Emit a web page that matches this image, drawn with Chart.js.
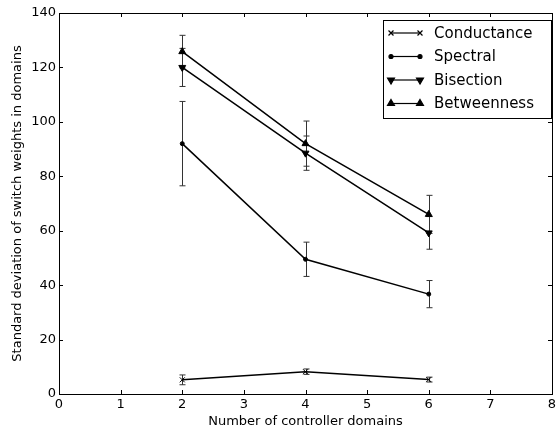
<!DOCTYPE html>
<html>
<head>
<meta charset="utf-8">
<script src="https://cdn.jsdelivr.net/npm/chart.js@4/dist/chart.umd.min.js"></script>
<style>
  html, body { margin: 0; padding: 0; background: #fff; }
  #wrap { width: 558px; height: 434px; }
</style>
</head>
<body>
<div id="wrap"><canvas id="chart" width="558" height="434"></canvas></div>
<script>
const xValues = [2, 4, 6];
const conductance = [5.2, 8.2, 5.3];
const conductanceErr = [1.8, 1.0, 0.9];
const spectral = [92, 49.5, 36.7];
const spectralErr = [15.5, 6.3, 5];
const bisection = [120, 88.5, 59.2];
const bisectionErr = [7, 6.3, 6];
const betweenness = [125.8, 92, 66];
const betweennessErr = [6, 8.3, 7];
const xTicks = [0, 1, 2, 3, 4, 5, 6, 7, 8];
const yTicks = [0, 20, 40, 60, 80, 100, 120, 140];

const FONT = 'DejaVu Sans';

function pts(vals) {
  return xValues.map((x, i) => ({ x: x, y: vals[i] }));
}

const series = [
  { label: 'Conductance', data: conductance, err: conductanceErr, style: 'crossRot', radius: 3.5, rot: 0 },
  { label: 'Spectral', data: spectral, err: spectralErr, style: 'circle', radius: 2, rot: 0 },
  { label: 'Bisection', data: bisection, err: bisectionErr, style: 'triangle', radius: 4, rot: 180 },
  { label: 'Betweenness', data: betweenness, err: betweennessErr, style: 'triangle', radius: 4, rot: 0 }
];

// error bars, inward ticks, frame and legend
const extras = {
  id: 'extras',
  beforeDatasetsDraw(chart) {
    const { ctx, scales: { x, y } } = chart;
    ctx.save();
    ctx.strokeStyle = '#333';
    ctx.lineWidth = 1;
    series.forEach(s => {
      xValues.forEach((xv, i) => {
        const px = Math.round(x.getPixelForValue(xv)) + 0.5;
        const top = y.getPixelForValue(s.data[i] + s.err[i]);
        const bot = y.getPixelForValue(s.data[i] - s.err[i]);
        ctx.beginPath();
        ctx.moveTo(px, top); ctx.lineTo(px, bot);
        ctx.moveTo(px - 3, top); ctx.lineTo(px + 3, top);
        ctx.moveTo(px - 3, bot); ctx.lineTo(px + 3, bot);
        ctx.stroke();
      });
    });
    ctx.restore();
  },
  afterDraw(chart) {
    const { ctx, chartArea: a, scales: { x, y } } = chart;
    ctx.save();
    ctx.strokeStyle = '#000';
    ctx.lineWidth = 1;
    ctx.beginPath();
    xTicks.forEach(v => {
      const px = Math.round(x.getPixelForValue(v)) + 0.5;
      ctx.moveTo(px, a.bottom); ctx.lineTo(px, a.bottom - 4);
      ctx.moveTo(px, a.top); ctx.lineTo(px, a.top + 4);
    });
    yTicks.forEach(v => {
      const py = Math.round(y.getPixelForValue(v)) + 0.5;
      ctx.moveTo(a.left, py); ctx.lineTo(a.left + 4, py);
      ctx.moveTo(a.right, py); ctx.lineTo(a.right - 4, py);
    });
    ctx.stroke();
    ctx.strokeRect(Math.round(a.left) + 0.5, Math.round(a.top) + 0.5,
      Math.round(a.right - a.left), Math.round(a.bottom - a.top));

    // legend
    const lx = 383, ly = 20, lw = 168, lh = 98;
    ctx.fillStyle = '#fff';
    ctx.fillRect(lx, ly, lw, lh);
    ctx.strokeRect(lx + 0.5, ly + 0.5, lw, lh);
    ctx.font = '15px "' + FONT + '"';
    ctx.textBaseline = 'middle';
    series.forEach((s, i) => {
      const cy = ly + 13 + i * 23.5;
      ctx.strokeStyle = '#000';
      ctx.lineWidth = 1.2;
      ctx.beginPath();
      ctx.moveTo(lx + 8, cy); ctx.lineTo(lx + 37, cy);
      ctx.stroke();
      [lx + 8, lx + 37].forEach(mx => {
        Chart.helpers.drawPoint(ctx, {
          pointStyle: s.style, radius: s.radius, rotation: s.rot,
          borderWidth: 1
        }, mx, cy);
      });
      ctx.fillStyle = '#000';
      ctx.fillText(s.label, lx + 51, cy + 1);
    });
    ctx.restore();
  }
};

new Chart(document.getElementById('chart'), {
  type: 'line',
  data: {
    datasets: series.map(s => ({
      label: s.label,
      data: pts(s.data),
      borderColor: '#000',
      backgroundColor: '#000',
      borderWidth: 1.5,
      pointStyle: s.style,
      pointRadius: s.radius,
      pointRotation: s.rot,
      pointBorderWidth: 1,
      tension: 0,
      fill: false
    }))
  },
  options: {
    responsive: false,
    animation: false,
    layout: { padding: { left: 0, right: 6, top: 13, bottom: 0 } },
    plugins: { legend: { display: false }, tooltip: { enabled: false } },
    scales: {
      x: {
        type: 'linear', min: 0, max: 8,
        afterBuildTicks: ax => { ax.ticks = xTicks.map(v => ({ value: v })); },
        afterFit: ax => { ax.height = 40; ax.paddingRight = 0; ax.paddingLeft = 0; },
        grid: { display: false, drawTicks: false },
        border: { display: false },
        ticks: { color: '#000', font: { family: FONT, size: 13 }, padding: 3 },
        title: { display: true, text: 'Number of controller domains', color: '#000',
          font: { family: FONT, size: 13 }, padding: { top: 2, bottom: 5 } }
      },
      y: {
        type: 'linear', min: 0, max: 140,
        afterBuildTicks: ax => { ax.ticks = yTicks.map(v => ({ value: v })); },
        afterFit: ax => { ax.width = 59; ax.paddingTop = 0; ax.paddingBottom = 0; },
        grid: { display: false, drawTicks: false },
        border: { display: false },
        ticks: { color: '#000', font: { family: FONT, size: 13 }, padding: 3 },
        title: { display: true, text: 'Standard deviation of switch weights in domains', color: '#000',
          font: { family: FONT, size: 13 }, padding: { top: 10, bottom: 2 } }
      }
    }
  },
  plugins: [extras]
});
</script>
</body>
</html>
